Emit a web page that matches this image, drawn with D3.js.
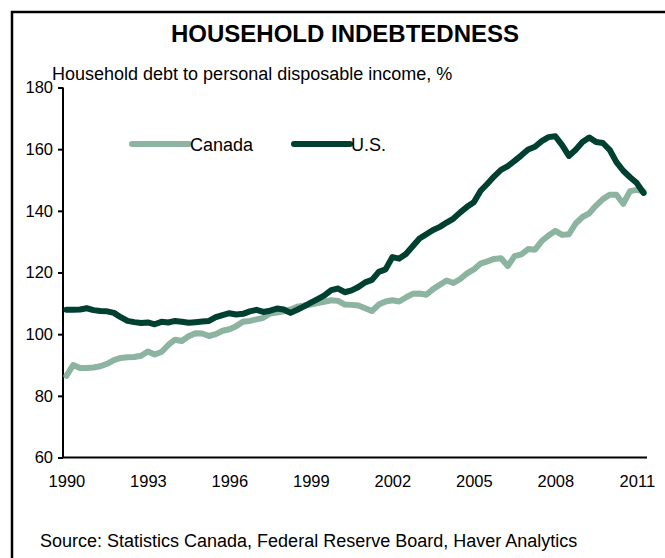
<!DOCTYPE html>
<html><head><meta charset="utf-8">
<script src="https://cdn.jsdelivr.net/npm/d3@7/dist/d3.min.js"></script>
<style>body{margin:0;background:#fff}svg{display:block}text{font-family:"Liberation Sans",Arial,sans-serif}</style>
</head><body>
<script>
// Quarterly data 1990Q1 - 2011Q2
const startYear = 1990;
const canada = [86.5,90.0,89.0,89.0,89.2,89.6,90.4,91.6,92.3,92.5,92.6,93.0,94.4,93.4,94.2,96.5,98.2,97.8,99.3,100.3,100.2,99.4,100.0,101.1,101.6,102.6,104.0,104.3,104.8,105.3,106.7,107.0,107.4,108.0,108.9,109.3,109.6,110.1,110.5,111.0,110.8,109.6,109.5,109.3,108.4,107.5,109.6,110.6,111.0,110.6,111.9,113.1,113.2,112.8,114.6,116.0,117.4,116.6,117.9,119.7,121.0,122.9,123.6,124.4,124.6,122.1,125.3,125.9,127.6,127.4,130.2,132.0,133.5,132.2,132.4,135.9,138.0,139.2,141.7,143.8,145.2,145.2,142.3,146.4,146.8,146.3];
const us = [107.9,107.9,108.0,108.4,107.8,107.5,107.4,106.9,105.5,104.3,103.9,103.6,103.8,103.2,104.0,103.8,104.3,104.0,103.7,103.9,104.1,104.3,105.5,106.2,106.8,106.4,106.6,107.4,107.9,107.2,107.6,108.3,108.0,106.9,107.9,109.0,110.2,111.4,112.6,114.3,114.8,113.6,114.2,115.3,116.8,117.6,120.2,121.0,125.0,124.5,126.0,128.5,131.0,132.4,133.8,134.8,136.2,137.5,139.5,141.3,142.8,146.5,148.8,151.2,153.3,154.5,156.2,158.0,159.9,160.8,162.6,163.9,164.2,161.3,157.8,159.8,162.3,163.8,162.3,162.0,159.8,155.8,153.0,150.9,149.0,145.8];
const yTicks = [60,80,100,120,140,160,180];
const xTickYears = [1990,1993,1996,1999,2002,2005,2008,2011];
const seriesNames = ["Canada","U.S."];
const colors = {"Canada":"#8db3a1","U.S.":"#004030"};

const quarters = canada.map((d,i)=> (startYear + Math.floor(i/4)) + "Q" + (i%4+1));

const W=665,H=558;
const svg=d3.select("body").append("svg").attr("width",W).attr("height",H);

svg.append("rect").attr("x",12).attr("y",12).attr("width",700).attr("height",700)
  .attr("fill","none").attr("stroke","#000").attr("stroke-width",2.5);

svg.append("text").attr("x",345).attr("y",42).attr("text-anchor","middle")
  .attr("font-size",24).attr("font-weight","bold").text("HOUSEHOLD INDEBTEDNESS");
svg.append("text").attr("x",52).attr("y",80).attr("font-size",18)
  .text("Household debt to personal disposable income, %");

const x=d3.scalePoint().domain(quarters).range([63,647]).padding(0.5);
const y=d3.scaleLinear().domain([60,180]).range([457.5,87.5]);

const yAx=svg.append("g").attr("transform","translate(63,0)")
  .call(d3.axisLeft(y).tickValues(yTicks).tickSize(5).tickPadding(5));
yAx.select(".domain").attr("stroke-width",2).attr("d","M0,87.5V457.5");
yAx.selectAll(".tick line").attr("stroke-width",2);
yAx.selectAll("text").attr("font-size",16.5).attr("font-family","Liberation Sans, Arial, sans-serif").attr("fill","#000");

const xAx=svg.append("g").attr("transform","translate(0,457.5)")
  .call(d3.axisBottom(x).tickValues(xTickYears.map(yv=>yv+"Q1")).tickSize(0).tickPadding(18).tickFormat(d=>d.slice(0,4)));
xAx.select(".domain").attr("stroke-width",2).attr("d","M63,0H647");
xAx.selectAll("text").attr("font-size",16.5).attr("font-family","Liberation Sans, Arial, sans-serif").attr("fill","#000");

const line=d3.line().x((d,i)=>x(quarters[i])).y(d=>y(d)).curve(d3.curveLinear);
const data={"Canada":canada,"U.S.":us};
seriesNames.forEach(n=>{
  svg.append("path").datum(data[n]).attr("d",line).attr("fill","none")
    .attr("stroke",colors[n]).attr("stroke-width",6).attr("stroke-linejoin","round").attr("stroke-linecap","round");
});

// legend
const leg=[{n:"Canada",x1:132,x2:189},{n:"U.S.",x1:294,x2:350}];
leg.forEach(l=>{
  svg.append("line").attr("x1",l.x1).attr("x2",l.x2).attr("y1",144).attr("y2",144)
    .attr("stroke",colors[l.n]).attr("stroke-width",6).attr("stroke-linecap","round");
  svg.append("text").attr("x",l.x2+1).attr("y",151).attr("font-size",18).text(l.n);
});

svg.append("text").attr("x",40).attr("y",547).attr("font-size",18)
  .text("Source: Statistics Canada, Federal Reserve Board, Haver Analytics");
</script>
</body></html>
